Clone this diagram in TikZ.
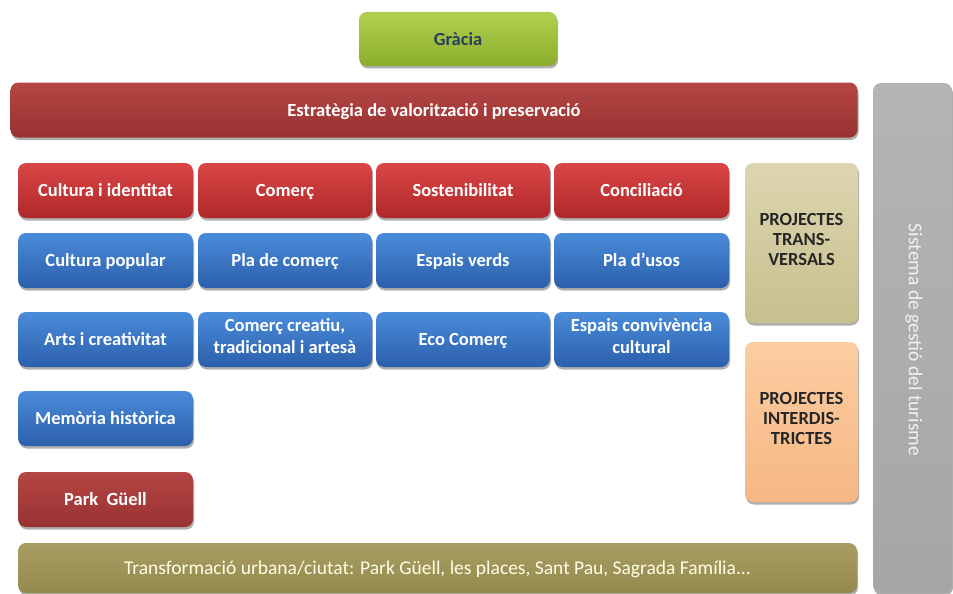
\documentclass[tikz,border=0pt]{standalone}
\usepackage{fontspec}
\setmainfont{Carlito}
\usetikzlibrary{shadows}
\definecolor{redT}{HTML}{DA4646}
\definecolor{redB}{HTML}{B02829}
\definecolor{dredT}{HTML}{B44644}
\definecolor{dredB}{HTML}{983231}
\definecolor{bluT}{HTML}{4A8CDA}
\definecolor{bluB}{HTML}{2B5FAB}
\definecolor{grnT}{HTML}{B2D04F}
\definecolor{grnB}{HTML}{8AAE2C}
\definecolor{khaT}{HTML}{DCD6B0}
\definecolor{khaB}{HTML}{C8BF8E}
\definecolor{pchT}{HTML}{FCCDA2}
\definecolor{pchB}{HTML}{F6B784}
\definecolor{oliT}{HTML}{A89D62}
\definecolor{oliB}{HTML}{958A4E}
\definecolor{gryT}{HTML}{B4B4B4}
\definecolor{gryB}{HTML}{A6A6A6}
\definecolor{gtxt}{HTML}{27405E}
\tikzset{
  x=1pt, y=-1pt,
  card/.style={rounded corners=8pt, align=center, inner sep=2pt,
    execute at begin node={\rule{0pt}{1.02em}}, execute at end node={\rule[-0.36em]{0pt}{0.36em}},
    drop shadow={shadow xshift=1pt, shadow yshift=-2.5pt, opacity=0.45, fill=black!70}},
  lbl/.style={font=\fontsize{18.5}{22}\selectfont\bfseries},
  redbox/.style={card, lbl, top color=redT, bottom color=redB, text=white,
    minimum width=175pt, minimum height=55pt},
  bluebox/.style={card, lbl, top color=bluT, bottom color=bluB, text=white,
    minimum width=175pt, minimum height=55pt},
  projbox/.style={card, text=black!85, font=\fontsize{18.5}{20}\selectfont\bfseries,
    minimum width=113pt, minimum height=160pt},
}
\begin{document}
\begin{tikzpicture}
\useasboundingbox[fill=white] (0,0) rectangle (953,594);
% top
\node[card, lbl, top color=grnT, bottom color=grnB, text=gtxt,
  minimum width=198pt, minimum height=54pt] (gracia) at (458,39) {Gràcia};
\node[card, lbl, top color=dredT, bottom color=dredB, text=white,
  minimum width=847pt, minimum height=55pt] (estrategia) at (434,110) {Estratègia de valorització i preservació};
% red row
\node[redbox] (cult) at (105.5,190.5) {Cultura i identitat};
\node[redbox, minimum width=174pt] (comerc) at (285,190.5) {Comerç};
\node[redbox, minimum width=174pt] (sost) at (463,190.5) {Sostenibilitat};
\node[redbox] (conc) at (641.5,190.5) {Conciliació};
% blue row 1
\node[bluebox] (cpop) at (105.5,260.5) {Cultura popular};
\node[bluebox, minimum width=174pt] (placom) at (285,260.5) {Pla de comerç};
\node[bluebox, minimum width=174pt] (espv) at (463,260.5) {Espais verds};
\node[bluebox] (plaus) at (641.5,260.5) {Pla d’usos};
% blue row 2
\node[bluebox] (arts) at (105.5,339.5) {Arts i creativitat};
\node[bluebox, minimum width=174pt] (comcr) at (285,339.5) {Comerç creatiu,\\tradicional i artesà};
\node[bluebox, minimum width=174pt] (eco) at (463,339.5) {Eco Comerç};
\node[bluebox] (espc) at (641.5,339.5) {Espais convivència\\cultural};
% column 1 extras
\node[bluebox] (mem) at (105.5,418.5) {Memòria històrica};
\node[card, lbl, top color=dredT, bottom color=dredB, text=white,
  minimum width=175pt, minimum height=55pt] (park) at (105.5,499.5) {Park\ \ Güell};
% right projects
\node[projbox, top color=khaT, bottom color=khaB] (ptrans) at (801.5,243) {PROJECTES\\TRANS-\\VERSALS};
\node[projbox, top color=pchT, bottom color=pchB] (pinter) at (801.5,422) {PROJECTES\\INTERDIS-\\TRICTES};
% bottom bar
\node[card, top color=oliT, bottom color=oliB, text=white!90!yellow, font=\fontsize{19.5}{22}\selectfont,
  minimum width=839pt, minimum height=50pt] (transf) at (437.5,568) {Transformació urbana/ciutat: Park Güell, les places, Sant Pau, Sagrada Família...};
% gray side bar
\node[card, top color=gryT, bottom color=gryB, minimum width=79pt, minimum height=510pt] (gestio) at (912.5,338) {};
\node[rotate=-90, text=white!90!gray, font=\fontsize{19.5}{22}\selectfont] (gestiotxt) at (914,340) {Sistema de gestió del turisme};
\end{tikzpicture}
\end{document}
